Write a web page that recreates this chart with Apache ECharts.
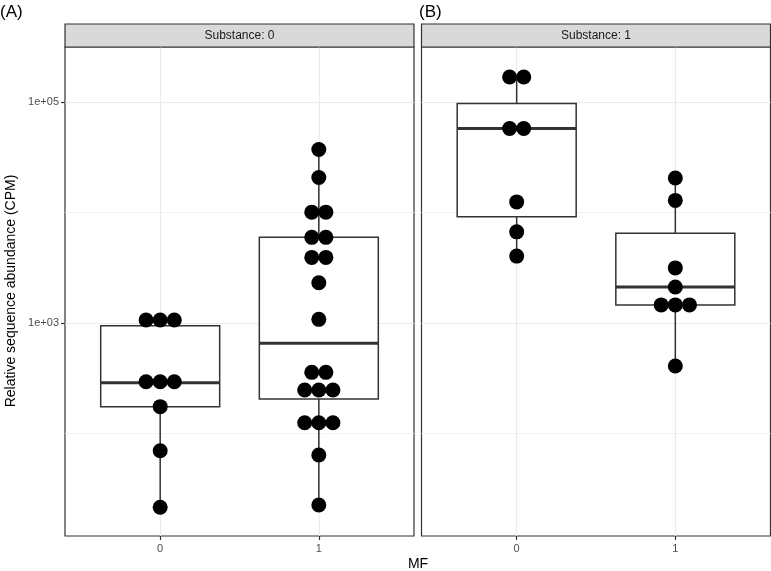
<!DOCTYPE html>
<html>
<head>
<meta charset="utf-8">
<script src="https://cdn.jsdelivr.net/npm/echarts@6/dist/echarts.min.js"></script>
<style>
  html, body { margin: 0; padding: 0; background: #fff; }
  #chart { width: 771px; height: 571px; }
</style>
</head>
<body>
<div id="chart"></div>
<script>
// facets and x categories
const panels = ['Substance: 0', 'Substance: 1']
const mfLevels = ['0', '1']

// individual samples (CPM)
const sub0mf0 = [1065, 1065, 1065, 294, 294, 294, 175, 69.8, 21.5]
const sub0mf1 = [37300, 20800, 10100, 10100, 5970, 5970, 3930, 3930, 2320, 1080,
  358, 358, 248, 248, 248, 125, 125, 125, 63.8, 22.5]
const sub1mf0 = [169000, 169000, 57800, 57800, 12500, 6700, 4040]
const sub1mf1 = [20600, 12900, 3160, 2120, 1460, 1460, 1460, 408]

// box stats: [lower whisker, Q1, median, Q3, upper whisker]
const box0 = [[21.5, 175, 288, 946, 1065], [22.5, 205, 655, 5970, 37300]]
const box1 = [[4040, 9170, 57800, 97300, 169000], [408, 1460, 2120, 6490, 20600]]

// y axis
const yMin = 11.8
const yMax = 316000
const yMajor = [1000, 100000]
const yMinor = [100, 10000]
const yTickText = { 1000: '1e+03', 100000: '1e+05' }

const DOT_STEP = 0.089 // horizontal spacing of stacked dots, in x units
const BOX_WIDTH = 0.75 // in x units

function stackDots (values, x) {
  const counts = {}
  values.forEach(v => { counts[v] = (counts[v] || 0) + 1 })
  const seen = {}
  return values.map(v => {
    seen[v] = seen[v] === undefined ? 0 : seen[v] + 1
    return [x + (seen[v] - (counts[v] - 1) / 2) * DOT_STEP, v]
  })
}

// ggplot-like box: no whisker caps, thick median
function renderBox (params, api) {
  const x = api.value(0)
  const halfW = api.size([BOX_WIDTH, 0])[0] / 2
  const lo = api.coord([x, api.value(1)])
  const q1 = api.coord([x, api.value(2)])
  const med = api.coord([x, api.value(3)])
  const q3 = api.coord([x, api.value(4)])
  const hi = api.coord([x, api.value(5)])
  const stroke = { stroke: '#333', lineWidth: 1.5 }
  return {
    type: 'group',
    children: [
      { type: 'line', shape: { x1: lo[0], y1: lo[1], x2: q1[0], y2: q1[1] }, style: stroke },
      { type: 'line', shape: { x1: q3[0], y1: q3[1], x2: hi[0], y2: hi[1] }, style: stroke },
      {
        type: 'rect',
        shape: { x: q3[0] - halfW, y: q3[1], width: halfW * 2, height: q1[1] - q3[1] },
        style: { fill: '#fff', stroke: '#333', lineWidth: 1.5 }
      },
      {
        type: 'line',
        shape: { x1: med[0] - halfW, y1: med[1], x2: med[0] + halfW, y2: med[1] },
        style: { stroke: '#333', lineWidth: 3 }
      }
    ]
  }
}

const grids = [
  { left: 65, top: 47, width: 349, height: 489 },
  { left: 421.5, top: 47, width: 349, height: 489 }
]

var myChart = echarts.init(document.getElementById('chart'))

const xAxes = []
const yAxes = []
const series = []
const boxes = [box0, box1]
const dots = [[sub0mf0, sub0mf1], [sub1mf0, sub1mf1]]

grids.forEach((g, p) => {
  g.show = true
  g.borderColor = '#333'
  g.borderWidth = 1.2
  g.backgroundColor = '#fff'
  xAxes.push({
    type: 'value',
    gridIndex: p,
    position: 'bottom',
    min: -0.6,
    max: 1.6,
    axisLine: { show: false, onZero: false },
    axisTick: { show: true, length: 4, customValues: [0, 1], lineStyle: { color: '#333', width: 1.2 } },
    axisLabel: {
      customValues: [0, 1],
      color: '#4d4d4d',
      fontSize: 11,
      fontFamily: 'Liberation Sans',
      margin: 7,
      formatter: v => mfLevels[Math.round(v)]
    },
    splitLine: { show: true, lineStyle: { color: '#ebebeb', width: 1.2 } }
  })
  // major y axis
  yAxes.push({
    type: 'log',
    logBase: 10,
    gridIndex: p,
    position: 'left',
    min: yMin,
    max: yMax,
    axisLine: { show: false, onZero: false },
    axisTick: { show: p === 0, length: 4, customValues: yMajor, lineStyle: { color: '#333', width: 1.2 } },
    axisLabel: {
      show: p === 0,
      customValues: yMajor,
      color: '#4d4d4d',
      fontSize: 11,
      fontFamily: 'Liberation Sans',
      margin: 6,
      formatter: v => yTickText[Math.round(v)] || ''
    },
    splitLine: { show: true, lineStyle: { color: '#ebebeb', width: 1.2 } }
  })
  // minor grid lines
  yAxes.push({
    type: 'log',
    logBase: 10,
    gridIndex: p,
    position: 'left',
    min: yMin,
    max: yMax,
    axisLine: { show: false, onZero: false },
    axisTick: { show: false, customValues: yMinor },
    axisLabel: { show: false, customValues: yMinor },
    splitLine: { show: true, lineStyle: { color: '#f3f3f3', width: 1 } }
  })

  series.push({
    type: 'custom',
    xAxisIndex: p,
    yAxisIndex: p * 2,
    renderItem: renderBox,
    silent: true,
    encode: { x: 0, y: [1, 2, 3, 4, 5] },
    data: boxes[p].map((b, i) => [i].concat(b)),
    z: 3
  })
  dots[p].forEach((vals, i) => {
    series.push({
      type: 'scatter',
      xAxisIndex: p,
      yAxisIndex: p * 2,
      symbol: 'circle',
      symbolSize: 15,
      itemStyle: { color: '#000', opacity: 1 },
      silent: true,
      data: stackDots(vals, i),
      z: 5
    })
  })
})

const graphics = []
grids.forEach((g, p) => {
  graphics.push({
    type: 'rect',
    shape: { x: g.left, y: 24, width: g.width, height: 23 },
    style: { fill: '#d9d9d9', stroke: '#333', lineWidth: 1.2 },
    z: 10
  })
  graphics.push({
    type: 'text',
    x: g.left + g.width / 2,
    y: 35.5,
    style: {
      text: panels[p],
      fill: '#1a1a1a',
      font: '12px "Liberation Sans"',
      align: 'center',
      verticalAlign: 'middle'
    },
    z: 11
  })
})
graphics.push({
  type: 'text', x: 0, y: 12,
  style: { text: '(A)', fill: '#000', font: '17px "Liberation Sans"', verticalAlign: 'middle' }
})
graphics.push({
  type: 'text', x: 419, y: 12,
  style: { text: '(B)', fill: '#000', font: '17px "Liberation Sans"', verticalAlign: 'middle' }
})
graphics.push({
  type: 'text', x: 418, y: 564,
  style: { text: 'MF', fill: '#000', font: '14px "Liberation Sans"', align: 'center', verticalAlign: 'middle' }
})
graphics.push({
  type: 'text', x: 11, y: 291, rotation: Math.PI / 2,
  style: { text: 'Relative sequence abundance (CPM)', fill: '#000', font: '14px "Liberation Sans"', align: 'center', verticalAlign: 'middle' }
})

myChart.setOption({
  animation: false,
  grid: grids,
  xAxis: xAxes,
  yAxis: yAxes,
  series: series,
  graphic: graphics
})
</script>
</body>
</html>
